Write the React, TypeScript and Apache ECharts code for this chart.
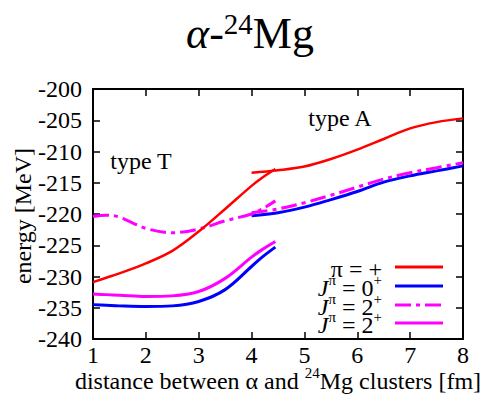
import React, { useEffect, useRef } from "react";
import * as echarts from "echarts";

// distance grids for the two configurations (fm)
const distT = [1, 1.25, 1.5, 2, 2.5, 3, 3.5, 4, 4.2, 4.45];
const distA = [4, 4.5, 5, 5.5, 6, 6.5, 7, 7.5, 8];

// type T energies (MeV)
const redT = [-230.9, -230.2, -229.5, -227.9, -225.9, -222.8, -219.2, -215.5, -214.2, -212.8];
const blueT = [-234.5, -234.6, -234.7, -234.8, -234.7, -234.0, -232.1, -228.4, -226.9, -225.3];
const pinkSolidT = [-232.8, -232.9, -233.0, -233.2, -233.1, -232.4, -230.3, -226.9, -225.7, -224.4];
const pinkDashT = [-220.4, -220.2, -220.5, -222.3, -223.0, -222.4, -221.1, -220.0, -219.2, -217.9];

// type A energies (MeV)
const redA = [-213.4, -213.0, -212.4, -211.2, -209.7, -208.0, -206.3, -205.3, -204.7];
const blueA = [-220.3, -219.8, -218.9, -217.7, -216.4, -214.9, -213.9, -213.1, -212.3];
const pinkDashA = [-219.8, -219.2, -218.2, -217.0, -215.7, -214.4, -213.4, -212.6, -211.8];

const xMin = 1;
const xMax = 8;
const yMin = -240;
const yMax = -200;

const FONT = "'Liberation Serif', 'Times New Roman', serif";
const RED = "#ff0000";
const BLUE = "#0000ff";
const MAGENTA = "#ff00ff";
const DASH_DOT = [16, 5, 4, 5];

const zip = (xs: number[], ys: number[]) => xs.map((x, i) => [x, ys[i]]);

const lineSeries = (name: string, xs: number[], ys: number[], color: string, width: number, dash?: number[]) => ({
  name,
  type: "line",
  data: zip(xs, ys),
  showSymbol: false,
  smooth: 0.35,
  lineStyle: { color, width, type: dash ?? "solid", cap: "butt" },
  z: 3,
});

const axisCommon = {
  type: "value",
  axisLine: { show: true, onZero: false, lineStyle: { color: "#000", width: 2 } },
  axisTick: { show: true, inside: true, length: 7, lineStyle: { color: "#000", width: 1.5 } },
  splitLine: { show: false },
};

const main = { fontSize: 24, fontFamily: FONT, lineHeight: 28, verticalAlign: "bottom", fill: "#000" };
const sup = { fontSize: 15, fontFamily: FONT, lineHeight: 14, verticalAlign: "top", fill: "#000" };
const ital = { ...main, fontStyle: "italic" };

const legendRows = [
  { text: "{m|π = +}", color: RED, dash: null as number[] | null, y: 267 },
  { text: "{i|J}{s|π}{m| = 0}{s|+}", color: BLUE, dash: null, y: 286 },
  { text: "{i|J}{s|π}{m| = 2}{s|+}", color: MAGENTA, dash: DASH_DOT, y: 305 },
  { text: "{i|J}{s|π}{m| = 2}{s|+}", color: MAGENTA, dash: null, y: 323 },
];

export default function App() {
  const ref = useRef<HTMLDivElement>(null);

  useEffect(() => {
    if (!ref.current) return;
    const chart = echarts.init(ref.current, undefined, { renderer: "svg" });

    const legendGraphics: any[] = [];
    legendRows.forEach((row) => {
      legendGraphics.push({
        type: "text",
        x: 382,
        y: row.y,
        style: {
          text: row.text,
          align: "right",
          verticalAlign: "middle",
          rich: { m: main, i: ital, s: sup },
        },
        z: 10,
      });
      legendGraphics.push({
        type: "line",
        shape: { x1: 395, y1: row.y, x2: 443, y2: row.y },
        style: { stroke: row.color, lineWidth: 3, lineDash: row.dash ?? undefined },
        z: 10,
      });
    });

    chart.setOption({
      animation: false,
      grid: { left: 93, right: 25, top: 89, bottom: 67 },
      xAxis: [
        {
          ...axisCommon,
          min: xMin,
          max: xMax,
          interval: 1,
          position: "bottom",
          axisLabel: { color: "#000", fontFamily: FONT, fontSize: 24, margin: 4 },
        },
        {
          ...axisCommon,
          min: xMin,
          max: xMax,
          interval: 1,
          position: "top",
          axisLabel: { show: false },
        },
      ],
      yAxis: [
        {
          ...axisCommon,
          min: yMin,
          max: yMax,
          interval: 5,
          position: "left",
          axisLabel: { color: "#000", fontFamily: FONT, fontSize: 24, margin: 11 },
        },
        {
          ...axisCommon,
          min: yMin,
          max: yMax,
          interval: 5,
          position: "right",
          axisLabel: { show: false },
        },
      ],
      series: [
        lineSeries("blueT", distT, blueT, BLUE, 3),
        lineSeries("blueA", distA, blueA, BLUE, 3),
        lineSeries("pinkDashA", distA, pinkDashA, MAGENTA, 3, DASH_DOT),
        lineSeries("pinkDashT", distT, pinkDashT, MAGENTA, 3, DASH_DOT),
        lineSeries("pinkSolidT", distT, pinkSolidT, MAGENTA, 3),
        lineSeries("redA", distA, redA, RED, 2.5),
        lineSeries("redT", distT, redT, RED, 2.5),
      ],
      graphic: [
        {
          type: "text",
          x: 250,
          y: 32,
          style: {
            text: "{i|α}{a|-}{s|24}{a|Mg}",
            align: "center",
            verticalAlign: "middle",
            rich: {
              a: { fontSize: 44, fontFamily: FONT, lineHeight: 46, verticalAlign: "bottom", fill: "#000" },
              i: { fontSize: 44, fontFamily: FONT, fontStyle: "italic", lineHeight: 46, verticalAlign: "bottom", fill: "#000" },
              s: { fontSize: 29, fontFamily: FONT, lineHeight: 28, verticalAlign: "top", fill: "#000" },
            },
          },
        },
        {
          type: "text",
          x: 23,
          y: 216,
          rotation: Math.PI / 2,
          style: {
            text: "energy [MeV]",
            fontSize: 24,
            fontFamily: FONT,
            fill: "#000",
            align: "center",
            verticalAlign: "middle",
          },
        },
        {
          type: "text",
          x: 278,
          y: 379,
          style: {
            text: "{m|distance between α and }{s|24}{m|Mg clusters [fm]}",
            align: "center",
            verticalAlign: "middle",
            rich: { m: main, s: sup },
          },
        },
        {
          type: "text",
          x: 141,
          y: 161,
          style: { text: "type T", fontSize: 24, fontFamily: FONT, fill: "#000", align: "center", verticalAlign: "middle" },
        },
        {
          type: "text",
          x: 340,
          y: 118,
          style: { text: "type A", fontSize: 24, fontFamily: FONT, fill: "#000", align: "center", verticalAlign: "middle" },
        },
        ...legendGraphics,
      ],
    });

    return () => chart.dispose();
  }, []);

  return <div ref={ref} style={{ width: 488, height: 406, position: "absolute", left: 0, top: 0, background: "#fff" }} />;
}
